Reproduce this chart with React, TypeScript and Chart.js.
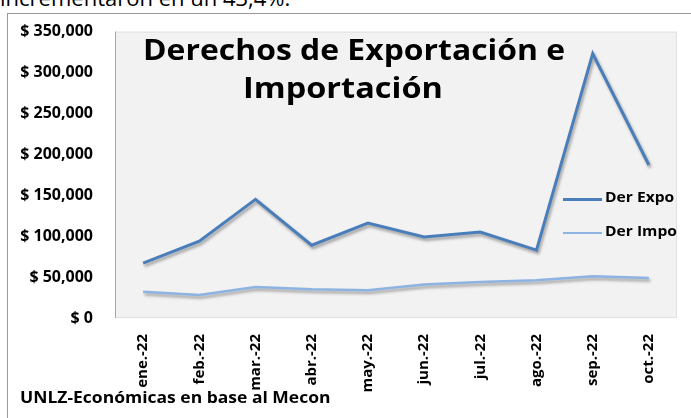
import React, { useEffect, useRef } from "react";
import { Chart, registerables } from "chart.js";

Chart.register(...registerables);

const categories = ["ene.-22", "feb.-22", "mar.-22", "abr.-22", "may.-22", "jun.-22", "jul.-22", "ago.-22", "sep.-22", "oct.-22"];
const derExpo = [67000, 94000, 145000, 89000, 116000, 99000, 105000, 83000, 323000, 187000];
const derImpo = [32000, 28000, 38000, 35000, 34000, 41000, 44000, 46000, 51000, 49000];
const yMax = 350000;
const yStep = 50000;

const FONT = "'Open Sans', 'DejaVu Sans', sans-serif";

const bgPlugin = {
  id: "plotBg",
  beforeDraw(chart: any) {
    const { ctx, chartArea } = chart;
    const { left, top, right, bottom } = chartArea;
    ctx.save();
    ctx.fillStyle = "#f2f2f2";
    ctx.fillRect(left, top, right - left, bottom - top);
    ctx.strokeStyle = "#e0e0e0";
    ctx.lineWidth = 1;
    ctx.strokeRect(left + 0.5, top + 0.5, right - left - 1, bottom - top - 1);
    ctx.strokeStyle = "#a6a6a6";
    ctx.beginPath();
    ctx.moveTo(left + 0.5, top);
    ctx.lineTo(left + 0.5, bottom);
    ctx.stroke();
    ctx.restore();
  },
};

const shadowPlugin = {
  id: "lineShadow",
  beforeDatasetDraw(chart: any) {
    const ctx = chart.ctx;
    ctx.save();
    ctx.shadowColor = "rgba(0,0,0,0.35)";
    ctx.shadowBlur = 3;
    ctx.shadowOffsetX = 1.5;
    ctx.shadowOffsetY = 2.5;
  },
  afterDatasetDraw(chart: any) {
    chart.ctx.restore();
  },
};

const textStyle = (size: number, bold: boolean, scaleX: number): React.CSSProperties => ({
  position: "absolute",
  fontSize: size,
  lineHeight: size + "px",
  fontWeight: bold ? "bold" : "normal",
  fontFamily: FONT,
  color: "#000",
  whiteSpace: "nowrap",
  transform: "scaleX(" + scaleX + ")",
  transformOrigin: "left top",
});

export default function App() {
  const ref = useRef<HTMLCanvasElement | null>(null);

  useEffect(() => {
    if (!ref.current) return;
    const chart = new Chart(ref.current, {
      type: "line",
      data: {
        labels: categories,
        datasets: [
          {
            label: "Der Expo",
            data: derExpo,
            borderColor: "#4a7ebb",
            borderWidth: 3,
            pointRadius: 0,
            tension: 0,
            fill: false,
          },
          {
            label: "Der Impo",
            data: derImpo,
            borderColor: "#8db3e2",
            borderWidth: 2.5,
            pointRadius: 0,
            tension: 0,
            fill: false,
          },
        ],
      },
      options: {
        animation: false,
        responsive: false,
        devicePixelRatio: 1,
        layout: { padding: { left: 0, top: 31, right: 14, bottom: 0 } },
        plugins: {
          legend: { display: false },
          title: { display: false },
          tooltip: { enabled: false },
        },
        scales: {
          x: {
            type: "category",
            offset: true,
            grid: { display: false, drawTicks: false },
            border: { display: false },
            ticks: {
              minRotation: 90,
              maxRotation: 90,
              padding: 16,
              color: "#000",
              font: { family: FONT, size: 15, weight: "bold" },
            },
            afterFit(scale: any) {
              scale.height = 100;
            },
          },
          y: {
            min: 0,
            max: yMax,
            grid: { display: false, drawTicks: false },
            border: { display: false },
            ticks: {
              stepSize: yStep,
              padding: 22,
              color: "#000",
              font: { family: FONT, size: 16, weight: "bold" },
              callback: (v: any) => "$ " + Number(v).toLocaleString("en-US"),
            },
            afterFit(scale: any) {
              scale.width = 115;
            },
          },
        },
      },
      plugins: [bgPlugin, shadowPlugin],
    });
    return () => chart.destroy();
  }, []);

  const legendItem = (label: string, color: string, width: number, y: number) => (
    <div style={{ position: "absolute", left: 563, top: y - 12, height: 24, width: 130 }}>
      <div style={{ position: "absolute", left: 0, top: 12 - width / 2, width: 39, height: width, background: color }} />
      <div style={{ ...textStyle(15, true, 1.04), left: 42, top: 2 }}>{label}</div>
    </div>
  );

  return (
    <div style={{ position: "absolute", left: 0, top: 0, width: 691, height: 418, overflow: "hidden", background: "#fff" }}>
      <div style={{ ...textStyle(22, false, 1), left: 0, top: -14 }}>incrementaron en un 43,4%.</div>
      <div
        style={{
          position: "absolute",
          left: 7,
          top: 13,
          width: 720,
          height: 420,
          borderLeft: "1px solid #9a9a9a",
          borderTop: "1px solid #9a9a9a",
        }}
      />
      <canvas ref={ref} width={691} height={418} style={{ position: "absolute", left: 0, top: 0, width: 691, height: 418 }} />
      <div style={{ ...textStyle(29, true, 1.1), left: 143, top: 34 }}>Derechos de Exportación e</div>
      <div style={{ ...textStyle(29, true, 1.12), left: 243, top: 72 }}>Importación</div>
      {legendItem("Der Expo", "#4a7ebb", 3, 199)}
      {legendItem("Der Impo", "#8db3e2", 2, 233)}
      <div style={{ ...textStyle(16.5, true, 1.06), left: 20, top: 389 }}>UNLZ-Económicas en base al Mecon</div>
    </div>
  );
}
